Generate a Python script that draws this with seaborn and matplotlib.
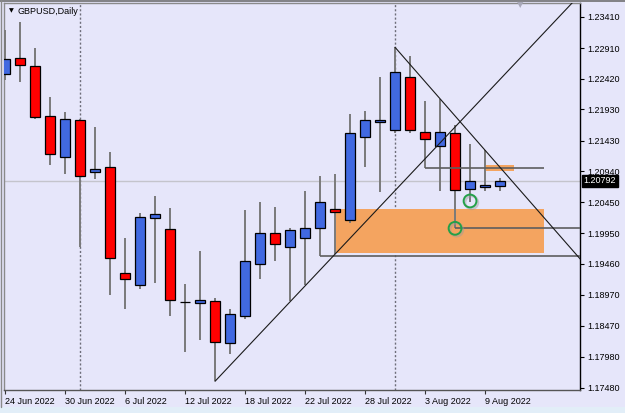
import numpy as np
import pandas as pd
import matplotlib
matplotlib.use("Agg")
import matplotlib.pyplot as plt
import matplotlib.patches as mpatches
import matplotlib.transforms as mtransforms
import seaborn as sns

# ---------------- data ----------------
dates = ["24 Jun 2022", "27 Jun 2022", "28 Jun 2022", "29 Jun 2022", "30 Jun 2022",
         "1 Jul 2022", "4 Jul 2022", "5 Jul 2022", "6 Jul 2022", "7 Jul 2022",
         "8 Jul 2022", "11 Jul 2022", "12 Jul 2022", "13 Jul 2022", "14 Jul 2022",
         "15 Jul 2022", "18 Jul 2022", "19 Jul 2022", "20 Jul 2022", "21 Jul 2022",
         "22 Jul 2022", "25 Jul 2022", "26 Jul 2022", "27 Jul 2022", "28 Jul 2022",
         "29 Jul 2022", "1 Aug 2022", "2 Aug 2022", "3 Aug 2022", "4 Aug 2022",
         "5 Aug 2022", "8 Aug 2022", "9 Aug 2022", "10 Aug 2022"]
opens = [1.22491, 1.22747, 1.22629, 1.21820, 1.21174, 1.21761, 1.20935, 1.21015, 1.19311, 1.19119,
         1.20190, 1.20024, 1.18857, 1.18837, 1.18873, 1.18193, 1.18629, 1.19455, 1.19960, 1.19727,
         1.19880, 1.20040, 1.20339, 1.20163, 1.21484, 1.21724, 1.21606, 1.22448, 1.21564, 1.21350,
         1.21548, 1.20653, 1.20690, 1.20714]
highs = [1.23199, 1.23322, 1.22907, 1.22124, 1.21884, 1.21785, 1.21649, 1.21245, 1.19870, 1.20280,
         1.20551, 1.20355, 1.19140, 1.19668, 1.18921, 1.18741, 1.20323, 1.20446, 1.20371, 1.20030,
         1.20626, 1.20866, 1.20893, 1.21852, 1.21905, 1.22453, 1.22923, 1.22784, 1.22060, 1.22101,
         1.21676, 1.21377, 1.21282, 1.20834]
lows = [1.22400, 1.22368, 1.21777, 1.21037, 1.20903, 1.19736, 1.20823, 1.18969, 1.18745, 1.19055,
        1.19161, 1.18634, 1.18053, 1.18250, 1.17585, 1.18026, 1.18586, 1.19225, 1.19512, 1.18868,
        1.19124, 1.19592, 1.19620, 1.20120, 1.21015, 1.20610, 1.21553, 1.21558, 1.20994, 1.20631,
        1.20030, 1.20443, 1.20626, 1.20631]
closes = [1.22731, 1.22640, 1.21814, 1.21218, 1.21777, 1.20861, 1.20978, 1.19560, 1.19215, 1.20216,
          1.20254, 1.18885, 1.18857, 1.18889, 1.18218, 1.18661, 1.19503, 1.19960, 1.19784, 1.20008,
          1.20040, 1.20455, 1.20286, 1.21548, 1.21761, 1.21756, 1.22528, 1.21596, 1.21457, 1.21564,
          1.20638, 1.20786, 1.20730, 1.20792]

tick_dates = ["24 Jun 2022", "30 Jun 2022", "6 Jul 2022", "12 Jul 2022", "18 Jul 2022",
              "22 Jul 2022", "28 Jul 2022", "3 Aug 2022", "9 Aug 2022"]
price_ticks = [1.23410, 1.22910, 1.22420, 1.21930, 1.21430, 1.20940, 1.20450,
               1.19950, 1.19460, 1.18970, 1.18470, 1.17980, 1.17480]
current_price = 1.20792
separator_dates = ["1 Jul 2022", "1 Aug 2022"]
title = "GBPUSD,Daily"

# drawing objects (anchors: bar position, price)
up_trend_x = [14, 22]
up_trend_p = [1.17585, 1.19617]
down_trend_x = [26, 33]
down_trend_p = [1.22923, 1.21004]
hline_start = [21, 28, 30]
hline_end = [40, 35.95, 40]
hline_price = [1.19592, 1.20994, 1.20030]
rect_x0 = [22, 32]
rect_x1 = [35.95, 33.95]
rect_p0 = [1.19631, 1.20946]
rect_p1 = [1.20339, 1.21042]
circle_x = [30, 31]
circle_p = [1.20030, 1.20467]

# ---------------- style ----------------
sns.set_style("white")
plt.rcParams["font.family"] = ["Liberation Sans", "DejaVu Sans"]

BG = "#E6E6FA"
W, H = 625, 413
fig = plt.figure(figsize=(W / 100, H / 100), dpi=100, facecolor=BG)
ax = fig.add_axes([4 / W, (H - 390) / H, (580 - 4) / W, (390 - 3) / H])
ax.set_facecolor(BG)

df = pd.DataFrame({"date": dates, "open": opens, "high": highs, "low": lows, "close": closes})
df["x"] = np.arange(len(df))
pos = dict(zip(df["date"], df["x"]))

# current price line
ax.axhline(current_price, color="#C4C4CC", lw=1.0, zorder=1)

# separators
for d in separator_dates:
    ax.axvline(pos[d], color="#6E6E7A", lw=1.0, ls=(0, (1.5, 1.5)), zorder=1)

# rectangles
for x0, x1, p0, p1 in zip(rect_x0, rect_x1, rect_p0, rect_p1):
    ax.add_patch(mpatches.Rectangle((x0, p0), x1 - x0, p1 - p0, facecolor="#F4A460",
                                    edgecolor="none", zorder=2))

# candles
bull = df["close"] >= df["open"]
ax.vlines(df["x"], df["low"], df["high"], color="#7A7A7A", lw=1.4, zorder=3)
ax.bar(df["x"], (df["close"] - df["open"]).abs(), bottom=np.minimum(df["open"], df["close"]),
       width=0.62, color=np.where(bull, "#4169E1", "#FF0000"), edgecolor="black",
       linewidth=0.9, zorder=4)

# horizontal lines
for xs, xe, p in zip(hline_start, hline_end, hline_price):
    ax.plot([xs, xe], [p, p], color="#5E5E5E", lw=1.2, zorder=5, solid_capstyle="butt")

# trendlines extended as rays
for xs, ps in ((up_trend_x, up_trend_p), (down_trend_x, down_trend_p)):
    slope = (ps[1] - ps[0]) / (xs[1] - xs[0])
    ax.plot([xs[0], 40], [ps[0], ps[0] + slope * (40 - xs[0])], color="#1A1A1A", lw=0.8, zorder=5)

# circles (shadow + green ring)
circ = pd.DataFrame({"x": circle_x, "p": circle_p})
sns.scatterplot(data=circ, x="x", y="p", ax=ax, marker="o", s=85, facecolors="none",
                edgecolor="#9A9A9A", linewidth=1.8, alpha=0.45, zorder=5, legend=False)
shadow = ax.collections[-1]
shadow.set_offset_transform(ax.transData +
                            mtransforms.ScaledTranslation(1.5 / 100, -1.5 / 100, fig.dpi_scale_trans))
sns.scatterplot(data=circ, x="x", y="p", ax=ax, marker="o", s=85, facecolors="none",
                edgecolor="#23A048", linewidth=1.4, zorder=6, legend=False)

# limits
ax.set_xlim(-0.067, 38.33)
ax.set_ylim(1.17446, 1.23631)

# axes
ax.set_xlabel("")
ax.set_ylabel("")
ax.yaxis.tick_right()
ax.set_yticks(price_ticks)
ax.set_yticklabels([f"{v:.5f}" for v in price_ticks])
ax.set_xticks([pos[d] for d in tick_dates])
ax.set_xticklabels(tick_dates)
for lbl in ax.get_xticklabels():
    lbl.set_horizontalalignment("left")
ax.tick_params(axis="y", right=True, left=False, direction="out", length=3, width=0.8,
               color="black", labelsize=6.5, pad=2.5, labelcolor="black")
ax.tick_params(axis="x", bottom=True, direction="out", length=3, width=0.8,
               color="#333333", labelsize=6.5, pad=2, labelcolor="black")
for side in ["left", "top"]:
    ax.spines[side].set_color("#8A8A8A")
    ax.spines[side].set_linewidth(1.0)
ax.spines["right"].set_color("black")
ax.spines["right"].set_linewidth(1.0)
ax.spines["bottom"].set_color("#555555")
ax.spines["bottom"].set_linewidth(1.0)

# current price label
ax.annotate(f"{current_price:.5f}", xy=(1.0, current_price), xycoords=("axes fraction", "data"),
            xytext=(2.5, 0), textcoords="offset points", ha="left", va="center",
            fontsize=6.5, color="white",
            bbox=dict(boxstyle="square,pad=0.18", facecolor="black", edgecolor="black"))

# title
fig.text(11 / W, 1 - 11 / H, "\u25BC", fontsize=4.5, color="black", ha="center", va="center",
         family=["DejaVu Sans"])
fig.text(17 / W, 1 - 11 / H, title, fontsize=6.5, color="black", ha="left", va="center")
# shift marker
fig.text(520 / W, 1 - 5 / H, "\u25BC", fontsize=6, color="#A8A8B8", ha="center", va="center",
         family=["DejaVu Sans"])

# frame decorations
fig.add_artist(mpatches.Rectangle((0, 0), 1, 6 / H, transform=fig.transFigure,
                                  facecolor="#E2EEF8", edgecolor="none"))
fig.add_artist(plt.Line2D([0, 1], [1 - 0.5 / H, 1 - 0.5 / H], transform=fig.transFigure,
                          color="#707070", lw=1.2))
fig.add_artist(plt.Line2D([0.8 / W, 0.8 / W], [6 / H, 1], transform=fig.transFigure,
                          color="#8A8A8A", lw=1.0))

fig.savefig("out.png", dpi=100, facecolor=BG)
